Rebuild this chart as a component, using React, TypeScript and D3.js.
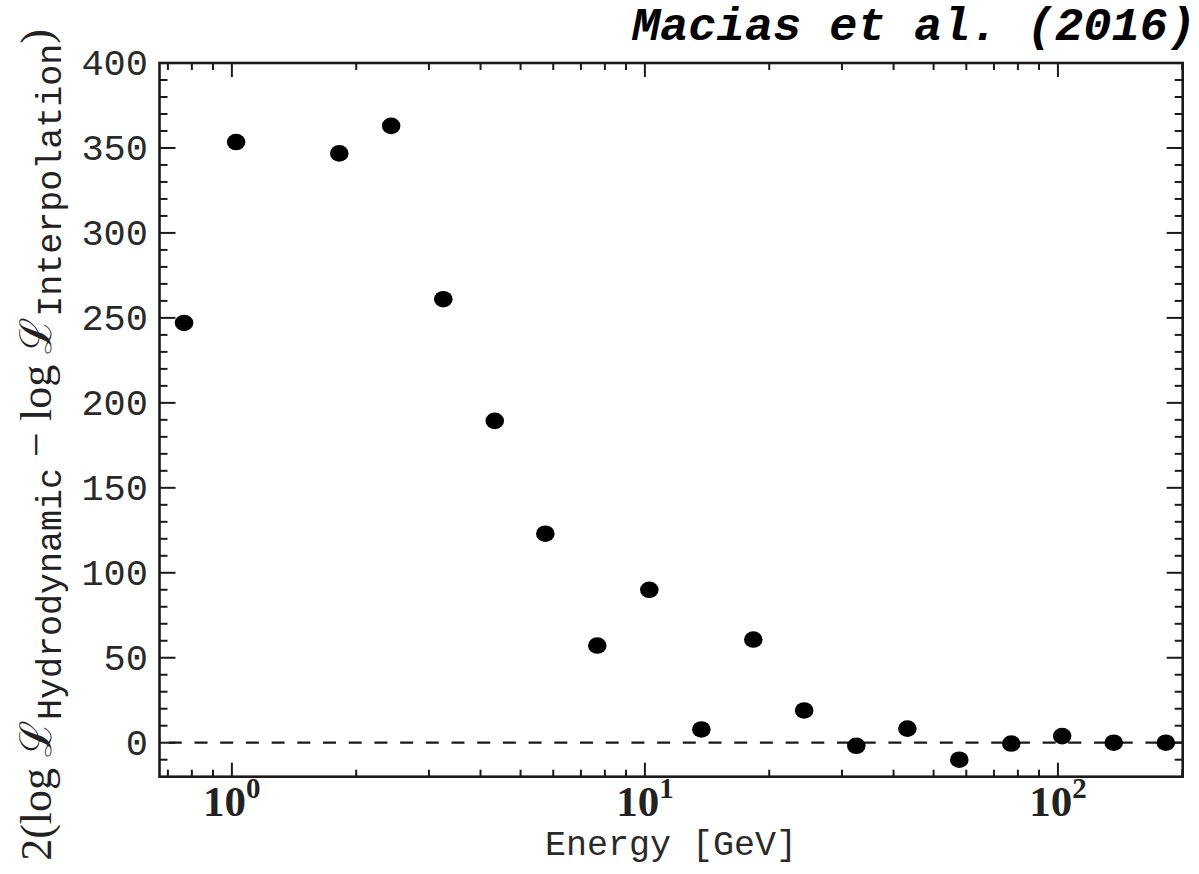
import React, { useEffect, useRef } from "react";
import * as d3 from "d3";

// energy bin centres [GeV] and test statistic values
const energies = [0.766, 1.024, 1.82, 2.43, 3.25, 4.33, 5.74, 7.67, 10.25, 13.7, 18.3, 24.3, 32.5, 43.2, 57.7, 77.1, 102.4, 136.5, 182.5];
const tsValues = [247, 353.5, 346.8, 363, 261, 189.4, 123, 57.2, 90, 7.8, 60.7, 19, -1.8, 8.3, -10, -0.5, 3.9, 0, 0];

const yTicks = [0, 50, 100, 150, 200, 250, 300, 350, 400];
const xMajorTicks = [1, 10, 100];
const xExponents = ["0", "1", "2"];
const xDomain = [0.668, 200.5];
const yDomain = [-20, 400];

const W = 1199;
const H = 874;
const margin = { top: 63, right: 16.3, bottom: 97.3, left: 159.5 };
const ink = "#1a1a1a";

function App() {
    const ref = useRef<SVGSVGElement | null>(null);

    useEffect(() => {
        const svg = d3.select(ref.current);
        svg.selectAll("*").remove();

        const x0 = margin.left;
        const x1 = W - margin.right;
        const y0 = margin.top;
        const y1 = H - margin.bottom;

        const x = d3.scaleLog().domain(xDomain).range([x0, x1]);
        const y = d3.scaleLinear().domain(yDomain).range([y1, y0]);

        const g = svg.append("g");

        // minor ticks on x (2..9 x 10^n)
        const xMinor: number[] = [];
        for (let e = -1; e <= 2; e++)
            for (let m = 2; m <= 9; m++) {
                const v = m * Math.pow(10, e);
                if (v > xDomain[0] && v < xDomain[1]) xMinor.push(v);
            }
        const yMinor = d3.range(-10, 400, 10).filter((v) => v % 50 !== 0);

        const tickG = g.append("g").attr("stroke", ink).attr("stroke-width", 2);

        const xTick = (v: number, len: number) => {
            tickG.append("line").attr("x1", x(v)).attr("x2", x(v)).attr("y1", y1).attr("y2", y1 - len);
            tickG.append("line").attr("x1", x(v)).attr("x2", x(v)).attr("y1", y0).attr("y2", y0 + len);
        };
        const yTick = (v: number, len: number) => {
            tickG.append("line").attr("x1", x0).attr("x2", x0 + len).attr("y1", y(v)).attr("y2", y(v));
            tickG.append("line").attr("x1", x1).attr("x2", x1 - len).attr("y1", y(v)).attr("y2", y(v));
        };
        xMinor.forEach((v) => xTick(v, 7));
        xMajorTicks.forEach((v) => xTick(v, 14));
        yMinor.forEach((v) => yTick(v, 8));
        yTicks.forEach((v) => yTick(v, 16));

        // zero line
        g.append("line")
            .attr("x1", x0)
            .attr("x2", x1)
            .attr("y1", y(0))
            .attr("y2", y(0))
            .attr("stroke", ink)
            .attr("stroke-width", 2.2)
            .attr("stroke-dasharray", "13 12.7")
            .attr("stroke-dashoffset", 16.4);

        // frame
        g.append("rect")
            .attr("x", x0)
            .attr("y", y0)
            .attr("width", x1 - x0)
            .attr("height", y1 - y0)
            .attr("fill", "none")
            .attr("stroke", ink)
            .attr("stroke-width", 2.6);

        // points
        g.append("g")
            .selectAll("ellipse")
            .data(energies)
            .enter()
            .append("ellipse")
            .attr("cx", (d) => x(d))
            .attr("cy", (d, i) => y(tsValues[i]))
            .attr("rx", 9.3)
            .attr("ry", 8.3)
            .attr("fill", "#000");

        // y tick labels
        g.append("g")
            .selectAll("text")
            .data(yTicks)
            .enter()
            .append("text")
            .attr("x", 148)
            .attr("y", (d) => y(d) + 12)
            .attr("text-anchor", "end")
            .style("font-family", "'Liberation Mono', monospace")
            .style("font-size", "37px")
            .attr("fill", "#2a2a2a")
            .text((d) => d);

        // x tick labels 10^n
        xMajorTicks.forEach((v, i) => {
            const t = g.append("text")
                .attr("x", x(v))
                .attr("y", 816)
                .attr("text-anchor", "middle")
                .style("font-family", "'Liberation Serif', serif")
                .style("font-size", "43px")
                .style("font-weight", "bold")
                .attr("fill", "#222");
            t.append("tspan").text("10");
            t.append("tspan").attr("dy", -18).style("font-size", "29px").text(xExponents[i]);
        });

        // x axis label
        g.append("text")
            .attr("x", (x0 + x1) / 2)
            .attr("y", 855)
            .attr("text-anchor", "middle")
            .style("font-family", "'Liberation Mono', monospace")
            .style("font-size", "35px")
            .attr("fill", "#2a2a2a")
            .text("Energy [GeV]");

        // y axis label
        const yl = g.append("text")
            .attr("transform", "translate(51,445) rotate(-90)")
            .attr("text-anchor", "middle")
            .style("font-family", "'Liberation Serif', 'DejaVu Serif', serif")
            .style("font-size", "44px")
            .attr("fill", "#222");
        yl.append("tspan").text("2(log ");
        yl.append("tspan").text("\u2112");
        yl.append("tspan")
            .attr("dy", 10)
            .style("font-family", "'Liberation Mono', monospace")
            .style("font-size", "35px")
            .text("Hydrodynamic");
        yl.append("tspan").attr("dy", -10).text(" \u2212 log ");
        yl.append("tspan").text("\u2112");
        yl.append("tspan")
            .attr("dy", 10)
            .style("font-family", "'Liberation Mono', monospace")
            .style("font-size", "35px")
            .text("Interpolation");
        yl.append("tspan").attr("dy", -10).text(")");

        // citation
        g.append("text")
            .attr("x", 1196)
            .attr("y", 40)
            .attr("text-anchor", "end")
            .style("font-family", "'Liberation Mono', monospace")
            .style("font-size", "47px")
            .style("font-weight", "bold")
            .style("font-style", "italic")
            .attr("fill", "#000")
            .text("Macias et al. (2016)");
    }, []);

    return (
        <svg
            ref={ref}
            width={W}
            height={H}
            style={{ position: "absolute", left: 0, top: 0, background: "#fff" }}
        />
    );
}

export default App;
